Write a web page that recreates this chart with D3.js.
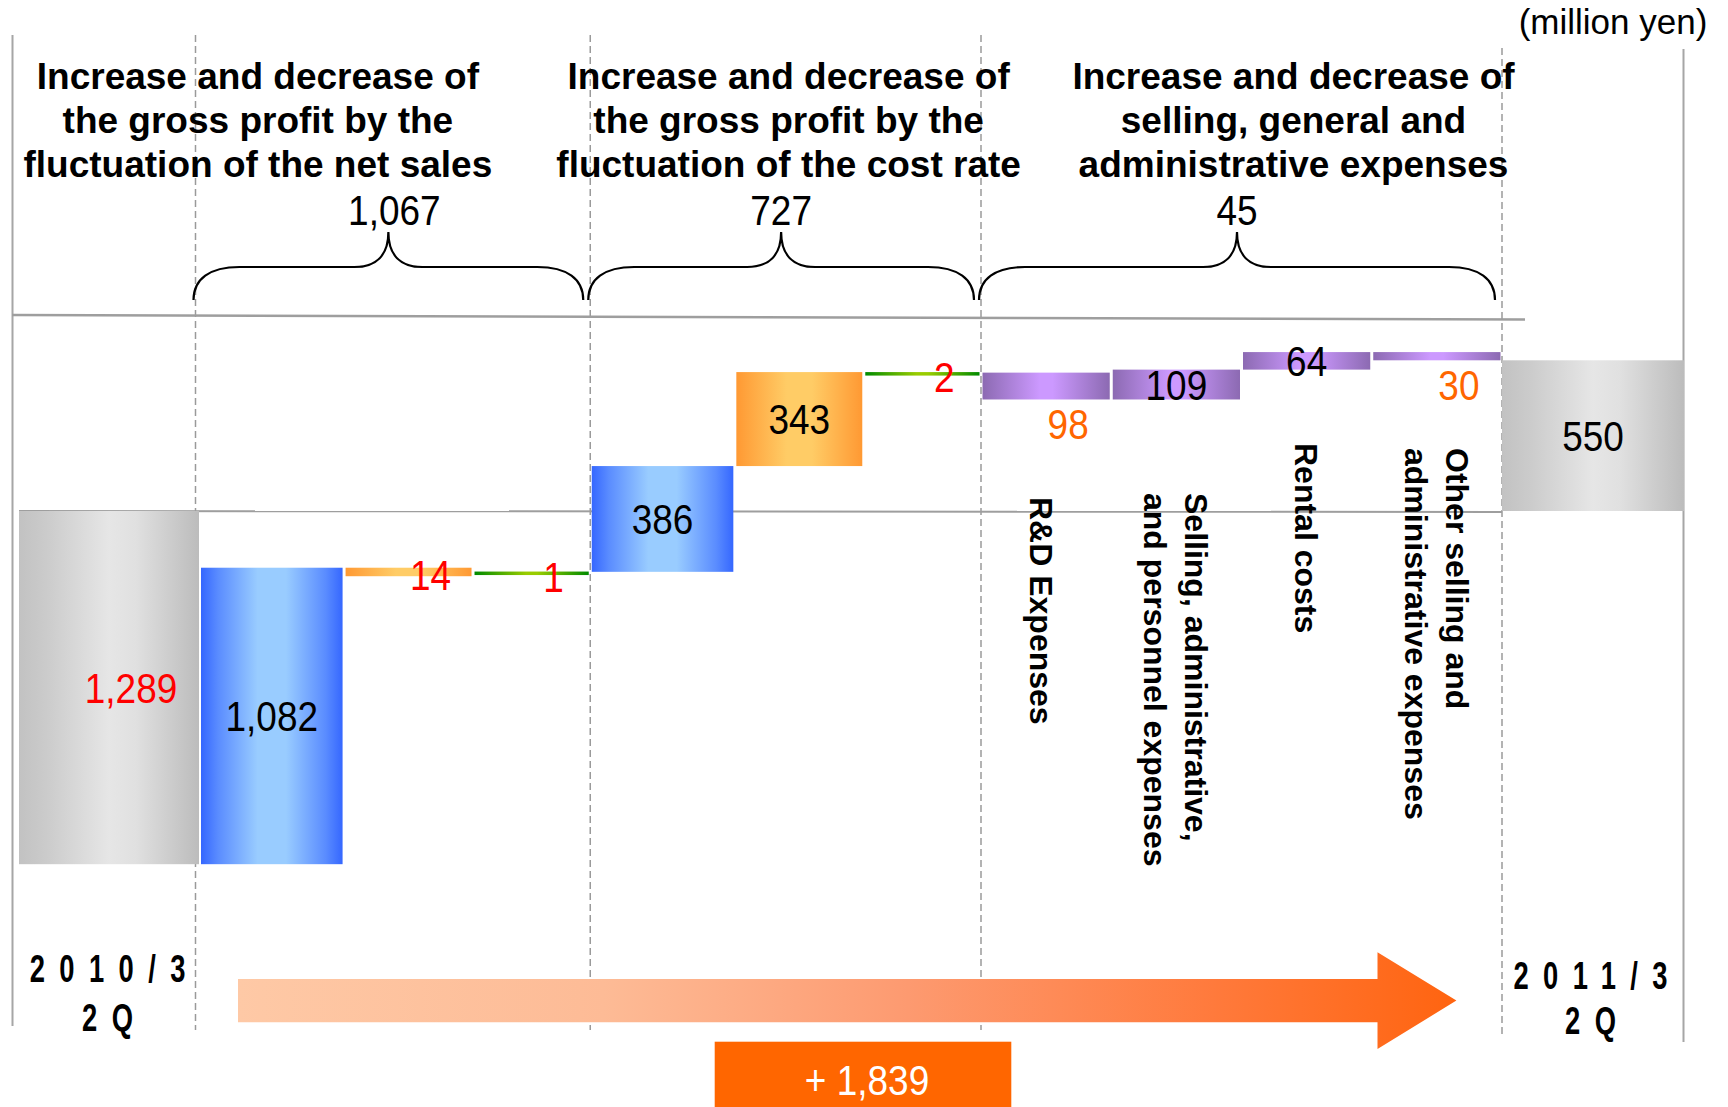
<!DOCTYPE html>
<html>
<head>
<meta charset="utf-8">
<script src="https://cdn.jsdelivr.net/npm/d3@7"></script>
<style>
  html, body { margin: 0; padding: 0; background: #fff; }
  svg { display: block; }
  text { font-family: "Liberation Sans", Arial, Helvetica, sans-serif; }
</style>
</head>
<body>
<svg id="chart" width="1728" height="1107"></svg>
<script>
// Operating income bridge: 2010/3 2Q -> 2011/3 2Q (million yen)

// ---- data ----
const periodLabels = [["2010/3", "2Q"], ["2011/3", "2Q"]];
const startValue = -1289;
const endValue = 550;
const unitLabel = "(million yen)";

const sectionTitles = [
  ["Increase and decrease of", "the gross profit by the", "fluctuation of the net sales"],
  ["Increase and decrease of", "the gross profit by the", "fluctuation of the cost rate"],
  ["Increase and decrease of", "selling, general and", "administrative expenses"]
];

const stepKeys    = ["sales-a", "sales-b", "sales-c", "cost-a", "cost-b", "cost-c",
                     "sga-rd", "sga-personnel", "sga-rent", "sga-other"];
const stepValues  = [1082, -14, -1, 386, 343, -2, -98, 109, 64, -30];
const stepSection = [0, 0, 0, 1, 1, 1, 2, 2, 2, 2];
const stepGroup   = ["blue", "orange", "green", "blue", "orange", "green", "sga", "sga", "sga", "sga"];

const expenseNames = [
  ["R&D Expenses"],
  ["Selling, administrative,", "and personnel expenses"],
  ["Rental costs"],
  ["Other selling and", "administrative expenses"]
];

// ---- styling / layout ----
const groupStyle = {
  blue:   { weight: 1.11, minH: 0,   neg: "#ff0000",
            stops: [[0, "#3567ff"], [0.12, "#5a8cff"], [0.4, "#99ccff"], [0.6, "#99ccff"], [0.88, "#5a8cff"], [1, "#3567ff"]] },
  orange: { weight: 0.99, minH: 8.5, neg: "#ff0000",
            stops: [[0, "#ff9933"], [0.4, "#ffcc66"], [0.6, "#ffcc66"], [1, "#ff9933"]] },
  green:  { weight: 0.90, minH: 3.5, neg: "#ff0000",
            stops: [[0, "#008a00"], [0.45, "#99cc00"], [0.55, "#99cc00"], [1, "#008a00"]] },
  sga:    { weight: 1.0,  minH: 0,   neg: "#ff6600",
            stops: [[0, "#8c6ab2"], [0.45, "#cc99ff"], [0.55, "#cc99ff"], [1, "#8c6ab2"]] }
};
const totalStops = [[0, "#c2c2c2"], [0.15, "#cbcbcb"], [0.5, "#e6e6e6"], [0.65, "#e0e0e0"], [1, "#bcbcbc"]];
const titleShift = [-137, 3, 52];
const noteTop = [497, 493, 443, 448];
const numFont = 43, numScaleX = 0.86;

const svg = d3.select("#chart");
const defs = svg.append("defs");

function hGrad(id, stops) {
  const g = defs.append("linearGradient").attr("id", id)
    .attr("x1", 0).attr("x2", 1).attr("y1", 0).attr("y2", 0);
  stops.forEach(([o, c]) => g.append("stop").attr("offset", o).attr("stop-color", c));
}
hGrad("g-total", totalStops);
Object.entries(groupStyle).forEach(([k, s]) => hGrad("g-" + k, s.stops));

// ---- scales ----
const weights = stepGroup.map(g => groupStyle[g].weight);
const cum = d3.cumsum([0, ...weights]);
const xStep = d3.scaleLinear().domain([0, d3.sum(weights)]).range([199.5, 1502]);
const k = 0.274, zeroY = 511;
const y = d3.scaleLinear().domain([-1300, 600]).range([zeroY + k * 1300, zeroY - k * 600]);
const fmt = d3.format(",");

// waterfall levels
let level = startValue;
const steps = stepValues.map((v, i) => {
  const d = { key: stepKeys[i], value: v, from: level, to: level + v,
              group: stepGroup[i], section: stepSection[i], i };
  level += v;
  return d;
});

// ---- frame and guides ----
const guide = svg.append("g");
guide.append("line").attr("x1", 12.5).attr("x2", 12.5).attr("y1", 35).attr("y2", 1026)
  .attr("stroke", "#a6a6a6").attr("stroke-width", 2);
guide.append("line").attr("x1", 1683.5).attr("x2", 1683.5).attr("y1", 49).attr("y2", 1042)
  .attr("stroke", "#a6a6a6").attr("stroke-width", 2);

const sections = sectionTitles.map((t, s) => {
  const idx = d3.range(stepSection.length).filter(i => stepSection[i] === s);
  const a = xStep(cum[idx[0]]), b = xStep(cum[idx[idx.length - 1] + 1]);
  return { s, a, b, total: d3.sum(idx, i => stepValues[i]), title: t };
});
const dashX = sections.map((d, i) => i === 0 ? d.a - 4 : d.a).concat([sections[sections.length - 1].b]);
guide.selectAll("line.dash").data(dashX).join("line").attr("class", "dash")
  .attr("x1", d => d).attr("x2", d => d)
  .attr("y1", (d, i) => i === dashX.length - 1 ? 48 : 35)
  .attr("y2", (d, i) => i === dashX.length - 1 ? 1035 : 1030)
  .attr("stroke", "#9a9a9a").attr("stroke-width", 1.5).attr("stroke-dasharray", "7,4");

guide.append("line").attr("x1", 12).attr("x2", 1525).attr("y1", 315).attr("y2", 319.5)
  .attr("stroke", "#9e9e9e").attr("stroke-width", 2.5);
guide.append("line").attr("x1", 19).attr("x2", xStep.range()[1]).attr("y1", y(0)).attr("y2", y(0) + 1)
  .attr("stroke", "#9e9e9e").attr("stroke-width", 2);

// ---- bars ----
const bars = svg.append("g");
const startX0 = 19, startX1 = xStep(0) - 0.5;
const endX0 = xStep.range()[1], endX1 = 1684;

bars.append("rect").attr("x", startX0).attr("width", startX1 - startX0)
  .attr("y", y(0)).attr("height", y(startValue) - y(0)).attr("fill", "url(#g-total)");
bars.append("rect").attr("x", endX0).attr("width", endX1 - endX0)
  .attr("y", y(endValue)).attr("height", y(0) - y(endValue)).attr("fill", "url(#g-total)");

steps.forEach(d => {
  const x0 = xStep(cum[d.i]), x1 = xStep(cum[d.i + 1]);
  const yA = y(d.from), yB = y(d.to);
  let top = Math.min(yA, yB), h = Math.abs(yB - yA);
  const minH = groupStyle[d.group].minH;
  if (h < minH) { top = d.value < 0 ? yA : yB; h = minH; }
  d.x0 = x0; d.x1 = x1; d.top = top; d.h = h;
  bars.append("rect").attr("x", x0 + 1.5).attr("width", x1 - x0 - 3)
    .attr("y", top).attr("height", h).attr("fill", `url(#g-${d.group})`);
});

// ---- value labels ----
const labels = svg.append("g").attr("font-size", numFont);
function num(x, yb, txt, color) {
  labels.append("text").attr("transform", `translate(${x},${yb}) scale(${numScaleX},1)`)
    .attr("text-anchor", "middle").attr("fill", color).text(txt);
}
const capHalf = numFont * 0.358;
num((startX0 + startX1) / 2 + 22, (y(0) + y(startValue)) / 2 + capHalf, fmt(Math.abs(startValue)),
    startValue < 0 ? "#ff0000" : "#000");
num((endX0 + endX1) / 2, (y(0) + y(endValue)) / 2 + capHalf, fmt(endValue), "#000");

steps.forEach(d => {
  const cx = (d.x0 + d.x1) / 2, midY = d.top + d.h / 2;
  if (d.value >= 0) num(cx, midY + capHalf, fmt(d.value), "#000");
  else if (d.group === "sga") num(cx + 22, d.top + d.h + 40, fmt(-d.value), groupStyle[d.group].neg);
  else num(cx + 22, midY + capHalf + (d.h < 20 ? 3 : 0), fmt(-d.value), groupStyle[d.group].neg);
});

// ---- expense item names (vertical) ----
const notes = svg.append("g").attr("font-size", 32).attr("font-weight", "bold").attr("fill", "#000");
steps.filter(d => d.group === "sga").forEach((d, j) => {
  const lines = expenseNames[j];
  const cx = (d.x0 + d.x1) / 2;
  const firstCenter = cx + 20.5 * (lines.length - 1) - (j === 0 ? 5 : 0);
  const g = notes.append("g").attr("transform", `translate(${firstCenter - 11.5},${noteTop[j]}) rotate(90)`);
  lines.forEach((t, li) => g.append("text").attr("x", 0).attr("y", li * 41).text(t));
});

// ---- section headers, braces, subtotals ----
function bracePath(a, b, yb, yh, yt) {
  const c = (a + b) / 2;
  return `M${a},${yb} C${a},${yh + 12} ${a + 16},${yh} ${a + 46},${yh} L${c - 34},${yh} ` +
         `C${c - 12},${yh} ${c},${yh - 12} ${c},${yt} C${c},${yh - 12} ${c + 12},${yh} ${c + 34},${yh} ` +
         `L${b - 46},${yh} C${b - 16},${yh} ${b},${yh + 12} ${b},${yb}`;
}
const head = svg.append("g");
sections.forEach(sec => {
  const a = (sec.s === 0 ? sec.a - 6 : sec.a - 2), b = sec.b - 7, c = (a + b) / 2;
  head.append("path").attr("d", bracePath(a, b, 300, 267, 232))
    .attr("fill", "none").attr("stroke", "#000").attr("stroke-width", 2.2);
  head.append("text").attr("transform", `translate(${c + (sec.s === 0 ? 6 : 0)},225) scale(${numScaleX},1)`)
    .attr("text-anchor", "middle").attr("font-size", numFont).text(fmt(sec.total));
  const tx = (sec.a + sec.b) / 2 + titleShift[sec.s];
  sec.title.forEach((t, li) => head.append("text").attr("x", tx).attr("y", 88.5 + li * 44)
    .attr("text-anchor", "middle").attr("font-size", 37).attr("font-weight", "bold").text(t));
});

svg.append("text").attr("x", 1613).attr("y", 34).attr("text-anchor", "middle")
  .attr("font-size", 35).text(unitLabel);

// ---- period labels ----
function period(cx, ys, lines) {
  lines.forEach((t, li) => svg.append("text")
    .attr("transform", `translate(${cx},${ys[li]}) scale(0.72,1)`)
    .attr("text-anchor", "middle").attr("dx", 10)
    .attr("font-size", 38).attr("font-weight", "bold")
    .style("letter-spacing", "20px").text(t));
}
period((startX0 + startX1) / 2 - 1.5, [982, 1031], periodLabels[0]);
period((endX0 + endX1) / 2 - 2.5, [989, 1034], periodLabels[1]);

// ---- overall change arrow ----
const totalChange = d3.sum(stepValues);
const ag = defs.append("linearGradient").attr("id", "g-arrow").attr("gradientUnits", "userSpaceOnUse")
  .attr("x1", 238).attr("x2", 1456).attr("y1", 0).attr("y2", 0);
[[0, "#fec9a6"], [0.3, "#fdbb96"], [0.55, "#fd9a70"], [0.8, "#ff7a3c"], [1, "#ff6410"]]
  .forEach(([o, c]) => ag.append("stop").attr("offset", o).attr("stop-color", c));
const ay = 1000.6, shaft = 21.7, headH = 48.3, ax0 = 238, ahb = 1377.5, atip = 1456.4;
svg.append("path")
  .attr("d", `M${ax0},${ay - shaft} L${ahb},${ay - shaft} L${ahb},${ay - headH} L${atip},${ay} ` +
             `L${ahb},${ay + headH} L${ahb},${ay + shaft} L${ax0},${ay + shaft} Z`)
  .attr("fill", "url(#g-arrow)");

svg.append("rect").attr("x", 714.7).attr("y", 1041.7).attr("width", 296.6).attr("height", 70)
  .attr("fill", "#ff6600");
svg.append("text").attr("transform", `translate(867,1095) scale(${numScaleX},1)`)
  .attr("text-anchor", "middle").attr("font-size", numFont).attr("fill", "#fff")
  .text("+ " + fmt(totalChange));
</script>
</body>
</html>
